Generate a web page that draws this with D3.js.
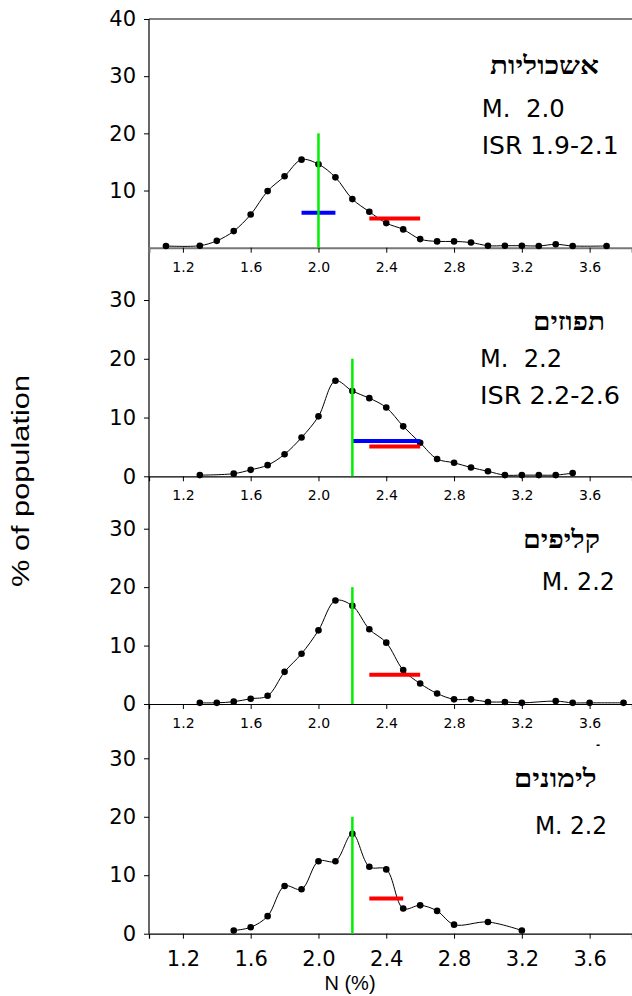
<!DOCTYPE html>
<html><head><meta charset="utf-8">
<script src="https://cdn.jsdelivr.net/npm/d3@7"></script>
<style>body{margin:0;background:#fff}svg{display:block}</style>
</head><body>
<script>
// ---- data ----
const xTicks = [1.2, 1.6, 2.0, 2.4, 2.8, 3.2, 3.6];
const yTicksTop = [10, 20, 30, 40];
const yTicks = [0, 10, 20, 30];

const fruitNames = ["אשכוליות", "תפוזים", "קליפים", "לימונים"];
const meanLabels = ["M.  2.0", "M.  2.2", "M. 2.2", "M. 2.2"];
const isrLabels = ["ISR 1.9-2.1", "ISR 2.2-2.6", null, null];
const meanValues = [2.0, 2.2, 2.2, 2.2];
const blueBars = [[1.9, 2.1, 6.1], [2.2, 2.6, 6.0], null, null];
const redBars = [[2.3, 2.6, 5.1], [2.3, 2.6, 5.05], [2.3, 2.6, 5.0], [2.3, 2.5, 6.0]];

const grapefruitN   = [1.1,1.3,1.4,1.5,1.6,1.7,1.8,1.9,2.0,2.1,2.2,2.3,2.4,2.5,2.6,2.7,2.8,2.9,3.0,3.1,3.2,3.3,3.4,3.5,3.7];
const grapefruitPct = [0.3,0.35,1.2,2.9,5.8,9.9,12.5,15.4,14.6,12.3,8.5,6.3,4.3,3.2,1.5,1.1,1.1,0.9,0.35,0.35,0.35,0.3,0.6,0.3,0.3];
const orangeN   = [1.3,1.5,1.6,1.7,1.8,1.9,2.0,2.1,2.2,2.3,2.4,2.5,2.6,2.7,2.8,2.9,3.0,3.1,3.2,3.3,3.4,3.5];
const orangePct = [0.2,0.45,1.1,1.9,3.75,6.6,10.2,16.25,14.5,13.3,11.7,8.5,5.7,2.95,2.3,1.5,0.85,0.2,0.2,0.2,0.2,0.55];
const clementineN   = [1.3,1.4,1.5,1.6,1.7,1.8,1.9,2.0,2.1,2.2,2.3,2.4,2.5,2.6,2.7,2.8,2.9,3.0,3.1,3.2,3.4,3.5,3.6,3.8];
const clementinePct = [0.2,0.2,0.4,0.9,1.4,5.5,8.6,12.6,17.7,16.8,12.8,10.5,5.8,3.5,1.8,0.8,0.8,0.35,0.35,0.2,0.5,0.2,0.2,0.2];
const lemonN   = [1.5,1.6,1.7,1.8,1.9,2.0,2.1,2.2,2.3,2.4,2.5,2.6,2.7,2.8,3.0,3.2];
const lemonPct = [0.55,1.1,3.0,8.15,7.6,12.4,12.4,17.1,11.45,11.0,4.3,4.85,3.9,1.55,2.0,0.55];

const seriesN = [grapefruitN, orangeN, clementineN, lemonN];
const seriesPct = [grapefruitPct, orangePct, clementinePct, lemonPct];

// ---- layout ----
const W = 632, H = 996;
const left = 149;
const panels = [
  {zero: 247.7, top: 19,    max: 40, ticks: yTicksTop},
  {zero: 476.3, top: 300,   max: 30, ticks: yTicks},
  {zero: 704,   top: 528.7, max: 30, ticks: yTicks},
  {zero: 933.7, top: 758.3, max: 30, ticks: yTicks}
];
const textLayout = [
  {hx: 599, hy: 74,    hw: 109, mx: 481.7, my: 117, mw: 83,  ix: 481.7, iy: 154, iw: 137},
  {hx: 605, hy: 330,   hw: 72,  mx: 480,   my: 367, mw: 82,  ix: 480,   iy: 404, iw: 140},
  {hx: 600, hy: 548,   hw: 77,  mx: 541.7, my: 590, mw: 73},
  {hx: 596.7, hy: 786.7, hw: 83, mx: 535,  my: 834, mw: 72}
];

const svg = d3.select("body").append("svg").attr("width", W).attr("height", H);
const x = d3.scaleLinear().domain([1.0, 3.85]).range([left, W]);

// continuous y axis line
svg.append("line").attr("x1", left).attr("x2", left).attr("y1", 19).attr("y2", panels[3].zero)
  .attr("stroke", "#000").attr("stroke-width", 1.2);
// top frame line
svg.append("line").attr("x1", left).attr("x2", W).attr("y1", 19).attr("y2", 19)
  .attr("stroke", "#000").attr("stroke-width", 1);

const line = d3.line().curve(d3.curveCatmullRom.alpha(0.5));

panels.forEach((p, i) => {
  const y = d3.scaleLinear().domain([0, p.max]).range([p.zero, p.top]);
  const g = svg.append("g");

  // y axis
  const ya = g.append("g").attr("transform", `translate(${left},0)`)
    .call(d3.axisLeft(y).tickValues(p.ticks).tickSize(5).tickPadding(8).tickFormat(d3.format("d")));
  ya.select(".domain").remove();
  ya.selectAll("text").attr("font-family", "DejaVu Sans, sans-serif").attr("font-size", 21).attr("fill", "#000");

  // x axis
  const last = i === 3;
  const xa = g.append("g").attr("transform", `translate(0,${p.zero})`)
    .call(d3.axisBottom(x).tickValues(xTicks).tickSize(5).tickPadding(last ? 12 : 9).tickFormat(d3.format(".1f")));
  xa.select(".domain").attr("stroke", i === 0 ? "#777" : "#000").attr("stroke-width", i === 0 ? 2 : 1.2);
  xa.selectAll("text").attr("font-family", "DejaVu Sans, sans-serif").attr("font-size", last ? 21 : 14).attr("fill", "#000");

  // data line + dots
  const pts = seriesN[i].map((n, k) => [x(n), y(seriesPct[i][k])]);
  g.append("path").attr("d", line(pts)).attr("fill", "none").attr("stroke", "#000").attr("stroke-width", 1);
  g.selectAll("circle.d").data(pts).join("circle").attr("cx", d => d[0]).attr("cy", d => d[1]).attr("r", 3.3).attr("fill", "#000");

  // bars
  if (blueBars[i]) {
    const b = blueBars[i];
    g.append("line").attr("x1", x(b[0])).attr("x2", x(b[1])).attr("y1", y(b[2])).attr("y2", y(b[2]))
      .attr("stroke", "#0000ff").attr("stroke-width", 4);
  }
  if (redBars[i]) {
    const b = redBars[i];
    g.append("line").attr("x1", x(b[0])).attr("x2", x(b[1])).attr("y1", y(b[2])).attr("y2", y(b[2]))
      .attr("stroke", "#ff0000").attr("stroke-width", 4);
  }
  // mean line
  g.append("line").attr("x1", x(meanValues[i])).attr("x2", x(meanValues[i])).attr("y1", y(0)).attr("y2", y(20))
    .attr("stroke", "#00ee00").attr("stroke-width", 2.5);

  // labels
  const t = textLayout[i];
  g.append("text").attr("x", t.hx).attr("y", t.hy).attr("text-anchor", "end")
    .attr("font-family", "Liberation Serif, DejaVu Sans, serif").attr("font-weight", "bold").attr("font-size", 25)
    .attr("textLength", t.hw).attr("lengthAdjust", "spacingAndGlyphs").text(fruitNames[i]);
  g.append("text").attr("x", t.mx).attr("y", t.my).style("white-space", "pre")
    .attr("font-family", "DejaVu Sans, sans-serif").attr("font-size", 24)
    .attr("textLength", t.mw).attr("lengthAdjust", "spacingAndGlyphs").text(meanLabels[i]);
  if (isrLabels[i]) {
    g.append("text").attr("x", t.ix).attr("y", t.iy).style("white-space", "pre")
      .attr("font-family", "DejaVu Sans, sans-serif").attr("font-size", 24)
      .attr("textLength", t.iw).attr("lengthAdjust", "spacingAndGlyphs").text(isrLabels[i]);
  }
});

// stray mark in the lower panel
svg.append("text").attr("x", 598).attr("y", 748).attr("text-anchor", "middle")
  .attr("font-family", "DejaVu Sans, sans-serif").attr("font-size", 10).attr("font-weight", "bold").text("-");

// axis titles
svg.append("text").attr("x", 350).attr("y", 990).attr("text-anchor", "middle")
  .attr("font-family", "Liberation Sans, Arial, sans-serif").attr("font-size", 20).text("N (%)");
svg.append("text").attr("transform", "translate(29,481) rotate(-90)").attr("text-anchor", "middle")
  .attr("font-family", "Liberation Sans, Arial, sans-serif").attr("font-size", 23)
  .attr("textLength", 212).attr("lengthAdjust", "spacingAndGlyphs").text("% of population");
</script>
</body></html>
